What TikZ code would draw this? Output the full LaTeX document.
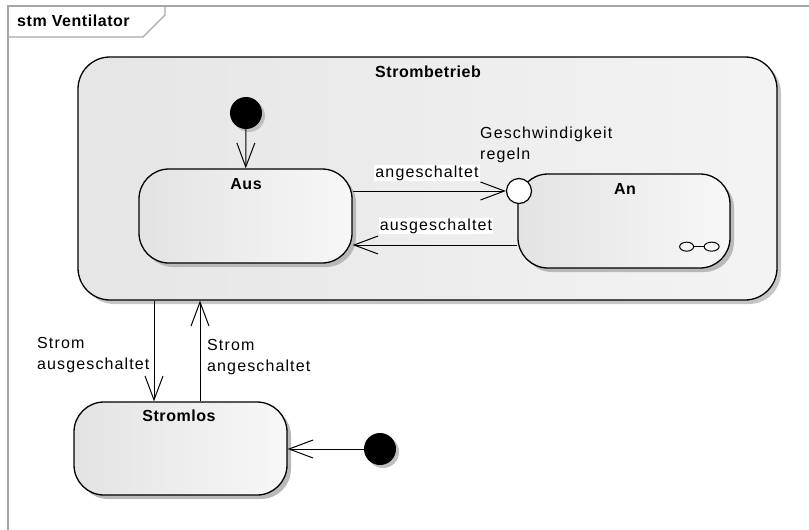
\documentclass[tikz,border=0pt]{standalone}
\usepackage{fontspec}
\setmainfont{Liberation Sans}
\newfontfamily\umlfont[LetterSpace=7]{Liberation Sans}
\newfontfamily\umlboldfont[LetterSpace=3.5]{Liberation Sans}
\usetikzlibrary{arrows.meta,shadows}

\begin{document}
\begin{tikzpicture}[x=1pt,y=-1pt,
  state/.style={draw, line width=1.3pt, rounded corners=30pt, left color=gray!22, right color=gray!6,
    drop shadow={shadow xshift=4pt, shadow yshift=-4pt, fill=gray!55, opacity=1}},
  composite/.style={draw, line width=1.3pt, rounded corners=32pt, left color=gray!20, right color=gray!9,
    drop shadow={shadow xshift=4pt, shadow yshift=-4pt, fill=gray!45, opacity=1}},
  initial/.style={circle, fill=black, minimum size=32pt, inner sep=0pt,
    drop shadow={shadow xshift=3pt, shadow yshift=-3pt, fill=gray!50, opacity=1}},
  entrypt/.style={circle, draw, line width=1.2pt, fill=white, minimum size=25pt, inner sep=0pt},
  trans/.style={line width=1pt, -{Straight Barb[length=24pt, width=18pt, line width=1pt]}},
  title/.style={font=\umlboldfont\bfseries\fontsize{16}{19}\selectfont, inner sep=0pt},
  lab/.style={font=\umlfont\fontsize{16}{21}\selectfont, fill=white, inner sep=1pt, align=left}]
\useasboundingbox (0,0) rectangle (809,530);
%%%%%%%%%%%%%%%%%%%%%%%%%%%%%%%%%%%%%%%%%%%%%%%%%%
% frame
%%%%%%%%%%%%%%%%%%%%%%%%%%%%%%%%%%%%%%%%%%%%%%%%%%
\draw[gray!70, line width=1.3pt] (8,545) -- (8,6) -- (820,6);
\draw[gray!70, line width=1.1pt] (8,37) -- (143,37) -- (165,15) -- (165,6);
\node[title, anchor=west] (frametitle) at (17,21) {stm Ventilator};
%%%%%%%%%%%%%%%%%%%%%%%%%%%%%%%%%%%%%%%%%%%%%%%%%%
% Strombetrieb
%%%%%%%%%%%%%%%%%%%%%%%%%%%%%%%%%%%%%%%%%%%%%%%%%%
\node[composite, minimum width=699pt, minimum height=243pt] (strombetrieb) at (427.5,178.5) {};
\node[title] (strombetriebLab) at (428,72) {Strombetrieb};

\node[initial] (init1) at (246,113) {};
\node[state, minimum width=213pt, minimum height=94pt] (aus) at (245.5,216) {};
\node[title] (ausLab) at (246,184) {Aus};
\node[state, minimum width=212pt, minimum height=94pt] (an) at (624,221) {};
\node[title] (anLab) at (625,189) {An};
\node[entrypt] (entry) at (519,191) {};

% composite icon
\path (an.south east) ++(-32,-22) coordinate (icon);
\draw[line width=1pt] ([xshift=-12pt]icon) ellipse [x radius=7, y radius=4.5]
  ([xshift=13pt]icon) ellipse [x radius=7.5, y radius=4.5];
\draw[line width=1pt] ([xshift=-5pt]icon) -- ([xshift=5.5pt]icon);

\draw[trans] (init1) -- (aus);
\draw[trans] (aus.east |- entry) -- (entry);
\coordinate (offport) at ([yshift=-24pt]an.west);
\draw[trans] (offport) -- (aus.east |- offport);

\node[lab] (onLab) at (427,173) {angeschaltet};
\node[lab] (offLab) at (436,226) {ausgeschaltet};
\node[lab, fill=none, anchor=west] (entryLab) at (479,145) {Geschwindigkeit\\regeln};
%%%%%%%%%%%%%%%%%%%%%%%%%%%%%%%%%%%%%%%%%%%%%%%%%%
% Stromlos
%%%%%%%%%%%%%%%%%%%%%%%%%%%%%%%%%%%%%%%%%%%%%%%%%%
\node[state, minimum width=213pt, minimum height=93pt] (stromlos) at (180.5,448.5) {};
\node[title] (stromlosLab) at (179,416) {Stromlos};
\node[initial] (init2) at (380,449) {};

\coordinate (downport) at ([xshift=-26.5pt]stromlos.north);
\coordinate (upport) at ([xshift=19.5pt]stromlos.north);
\draw[trans] (strombetrieb.south -| downport) -- (downport);
\draw[trans] (upport) -- (strombetrieb.south -| upport);
\draw[trans] (init2) -- (stromlos.east |- init2);

\node[lab, anchor=west] (powerOffLab) at (36,355) {Strom\\ausgeschaltet};
\node[lab, anchor=west] (powerOnLab) at (206,357) {Strom\\angeschaltet};
\end{tikzpicture}
\end{document}
